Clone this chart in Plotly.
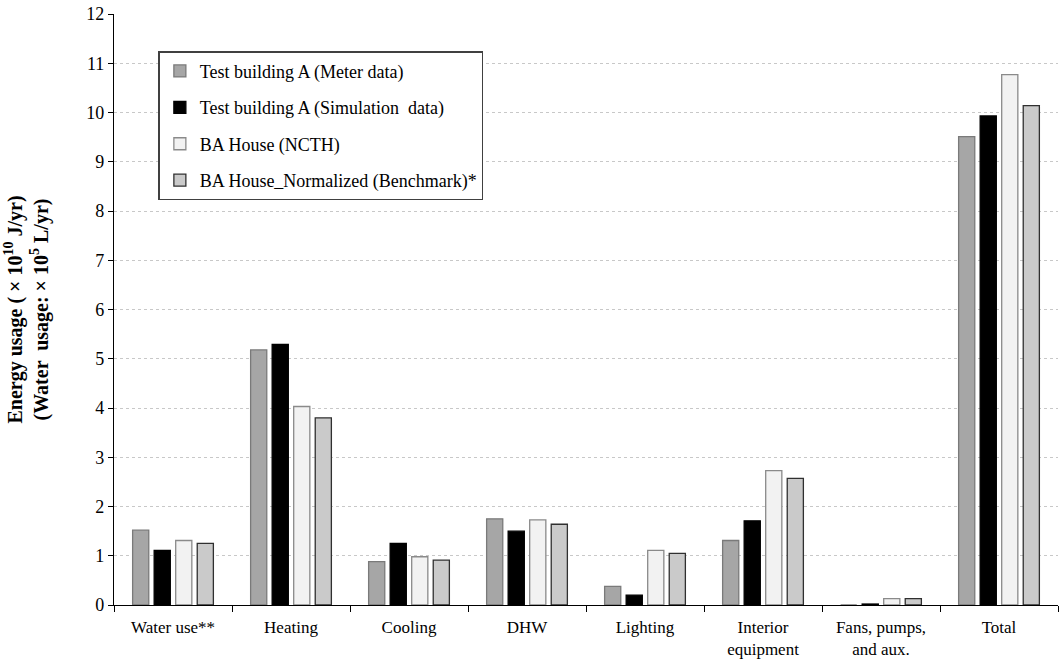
import plotly.graph_objects as go

categories = ["Water use**", "Heating", "Cooling", "DHW", "Lighting",
              "Interior<br>equipment", "Fans, pumps,<br>and aux.", "Total"]
meter = [1.52, 5.18, 0.88, 1.75, 0.38, 1.31, 0.00, 9.51]
simulation = [1.11, 5.29, 1.25, 1.50, 0.20, 1.71, 0.02, 9.93]
ncth = [1.31, 4.03, 0.98, 1.73, 1.11, 2.73, 0.13, 10.77]
benchmark = [1.25, 3.80, 0.91, 1.64, 1.05, 2.57, 0.13, 10.14]

series = [
    ("Test building A (Meter data)", meter, "#a6a6a6", "#7a7a7a"),
    ("Test building A (Simulation  data)", simulation, "#000000", "#000000"),
    ("BA House (NCTH)", ncth, "#f2f2f2", "#8a8a8a"),
    ("BA House_Normalized (Benchmark)*", benchmark, "#cacaca", "#303030"),
]

fig = go.Figure()
for i, (name, vals, fill, line) in enumerate(series):
    fig.add_trace(go.Bar(
        x=categories, y=vals, name=name,
        marker=dict(color=fill, line=dict(color=line, width=1.3)),
        legendgroup=str(i),
    ))

font = "Liberation Serif, Times New Roman, serif"
fig.update_layout(
    width=1060, height=663,
    margin=dict(l=114, r=2, t=14, b=58),
    paper_bgcolor="white", plot_bgcolor="white",
    barmode="group", bargap=0.27, bargroupgap=0.25,
    font=dict(family=font, size=17, color="black"),
    showlegend=True,
    legend=dict(
        x=0.047, y=0.937, xanchor="left", yanchor="top",
        bgcolor="white", bordercolor="#404040", borderwidth=1.5,
        font=dict(family=font, size=18, color="black"),
        traceorder="grouped", tracegroupgap=10,
        itemwidth=30,
    ),
    xaxis=dict(
        type="category", tickson="boundaries", ticks="outside", ticklen=6,
        tickcolor="black", showline=True, linecolor="black", linewidth=1.3,
        tickfont=dict(family=font, size=17), showgrid=False,
        automargin=False, ticklabelstandoff=6,
    ),
    yaxis=dict(
        range=[0, 12], dtick=1, ticks="outside", ticklen=5, tickcolor="black",
        showline=True, linecolor="black", linewidth=1.3,
        showgrid=True, gridcolor="#c8c8c8", griddash="dot", gridwidth=1,
        zeroline=False, automargin=False,
        tickfont=dict(family=font, size=18),
        title=dict(
            text="<b>Energy usage ( × 10<sup>10</sup> J/yr)<br>(Water  usage: × 10<sup>5</sup> L/yr)</b>",
            font=dict(family=font, size=20), standoff=32,
        ),
    ),
)

fig.write_html("out.html", config={"displayModeBar": False},
               post_script="document.body.style.margin='0';")
